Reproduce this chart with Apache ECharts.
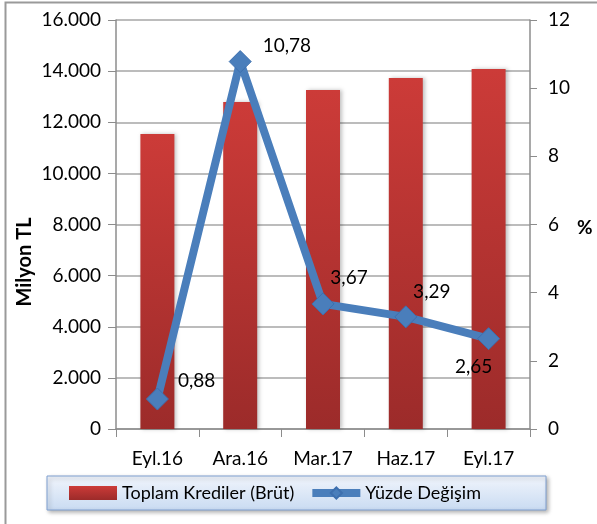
<!DOCTYPE html>
<html>
<head>
<meta charset="utf-8">
<script src="https://cdn.jsdelivr.net/npm/echarts@6/dist/echarts.min.js"></script>
<style>
  html, body { margin: 0; padding: 0; background: #fff; }
  #chart { width: 597px; height: 524px; }
</style>
</head>
<body>
<div id="chart"></div>
<script>
const categories = ['Eyl.16', 'Ara.16', 'Mar.17', 'Haz.17', 'Eyl.17']
const krediler = [11540, 12790, 13260, 13730, 14080]
const degisim = [0.88, 10.78, 3.67, 3.29, 2.65]

const fmtTL = v => String(v).replace(/\B(?=(\d{3})+(?!\d))/g, '.')
const fmtPct = v => v.toFixed(2).replace('.', ',')

// label placement per point
const labelPos = [
  { position: 'right', offset: [4, -18] },
  { position: 'right', offset: [6, -16] },
  { position: 'top', offset: [26, 0] },
  { position: 'top', offset: [26, 1] },
  { position: 'bottom', offset: [-15, 2] }
]

const chart = echarts.init(document.getElementById('chart'))
const font = 'Lato, "Open Sans", sans-serif'

chart.setOption({
  animation: false,
  textStyle: { fontFamily: font },
  graphic: [
    {
      type: 'rect',
      shape: { x: 5.5, y: 2.5, width: 620, height: 540 },
      style: { fill: 'none', stroke: '#9a9a9a', lineWidth: 2 },
      silent: true,
      z: -10
    },
    {
      type: 'rect',
      shape: { x: 47, y: 476, width: 499, height: 34 },
      style: {
        fill: new echarts.graphic.LinearGradient(0, 0, 0, 1, [
          { offset: 0, color: '#f1f5fc' },
          { offset: 1, color: '#c9dbf2' }
        ]),
        stroke: '#7f9fd0',
        lineWidth: 1,
        shadowColor: 'rgba(0,0,0,0.3)',
        shadowBlur: 4,
        shadowOffsetX: 2,
        shadowOffsetY: 2
      },
      silent: true,
      z: -5
    },
    {
      type: 'text',
      left: 15,
      top: 'middle',
      rotation: Math.PI / 2,
      style: { text: 'Milyon TL', font: 'bold 20px ' + font, fill: '#000' }
    },
    {
      type: 'text',
      left: 577,
      top: 218,
      style: { text: '%', font: 'bold 19px ' + font, fill: '#000' }
    }
  ],
  legend: {
    bottom: 17,
    left: 64,
    itemGap: 14,
    itemWidth: 48,
    itemHeight: 14,
    textStyle: { fontSize: 18, color: '#000', fontFamily: font },
    data: [
      { name: 'Toplam Krediler (Brüt)', icon: 'rect' },
      { name: 'Yüzde Değişim', lineStyle: { width: 8 } }
    ]
  },
  grid: { left: 116, right: 67, top: 20, bottom: 95 },
  xAxis: {
    type: 'category',
    data: categories,
    axisLine: { lineStyle: { color: '#8c8c8c', width: 1.5 } },
    axisTick: { show: true, length: 8, lineStyle: { color: '#8c8c8c' } },
    axisLabel: { fontSize: 19, color: '#000', margin: 20 }
  },
  yAxis: [
    {
      type: 'value',
      min: 0,
      max: 16000,
      interval: 2000,
      axisLine: { show: true, lineStyle: { color: '#8c8c8c', width: 1.5 } },
      axisTick: { show: true, length: 8, lineStyle: { color: '#8c8c8c' } },
      splitLine: { lineStyle: { color: '#a6a6a6', width: 1.5 } },
      axisLabel: { fontSize: 19, color: '#000', margin: 15, formatter: fmtTL }
    },
    {
      type: 'value',
      min: 0,
      max: 12,
      interval: 2,
      position: 'right',
      axisLine: { show: true, lineStyle: { color: '#8c8c8c', width: 1.5 } },
      axisTick: { show: true, length: 7, lineStyle: { color: '#8c8c8c' } },
      splitLine: { show: false },
      axisLabel: { fontSize: 19, color: '#000', margin: 18 }
    }
  ],
  series: [
    {
      name: 'Toplam Krediler (Brüt)',
      type: 'bar',
      barWidth: 34,
      data: krediler,
      itemStyle: {
        color: new echarts.graphic.LinearGradient(0, 0, 0, 1, [
          { offset: 0, color: '#cc3b38' },
          { offset: 1, color: '#9c2b2a' }
        ]),
        shadowColor: 'rgba(0,0,0,0.25)',
        shadowBlur: 4,
        shadowOffsetX: 2
      }
    },
    {
      name: 'Yüzde Değişim',
      type: 'line',
      yAxisIndex: 1,
      data: degisim.map((v, i) => ({
        value: v,
        label: { show: true, ...labelPos[i] }
      })),
      symbol: 'diamond',
      symbolSize: 22,
      lineStyle: { color: '#4a7ebb', width: 8 },
      itemStyle: { color: '#4a7ebb', borderColor: '#3d6fae', borderWidth: 1 },
      label: {
        fontSize: 19,
        color: '#000',
        formatter: p => fmtPct(p.value)
      },
      z: 5
    }
  ]
})
</script>
</body>
</html>
